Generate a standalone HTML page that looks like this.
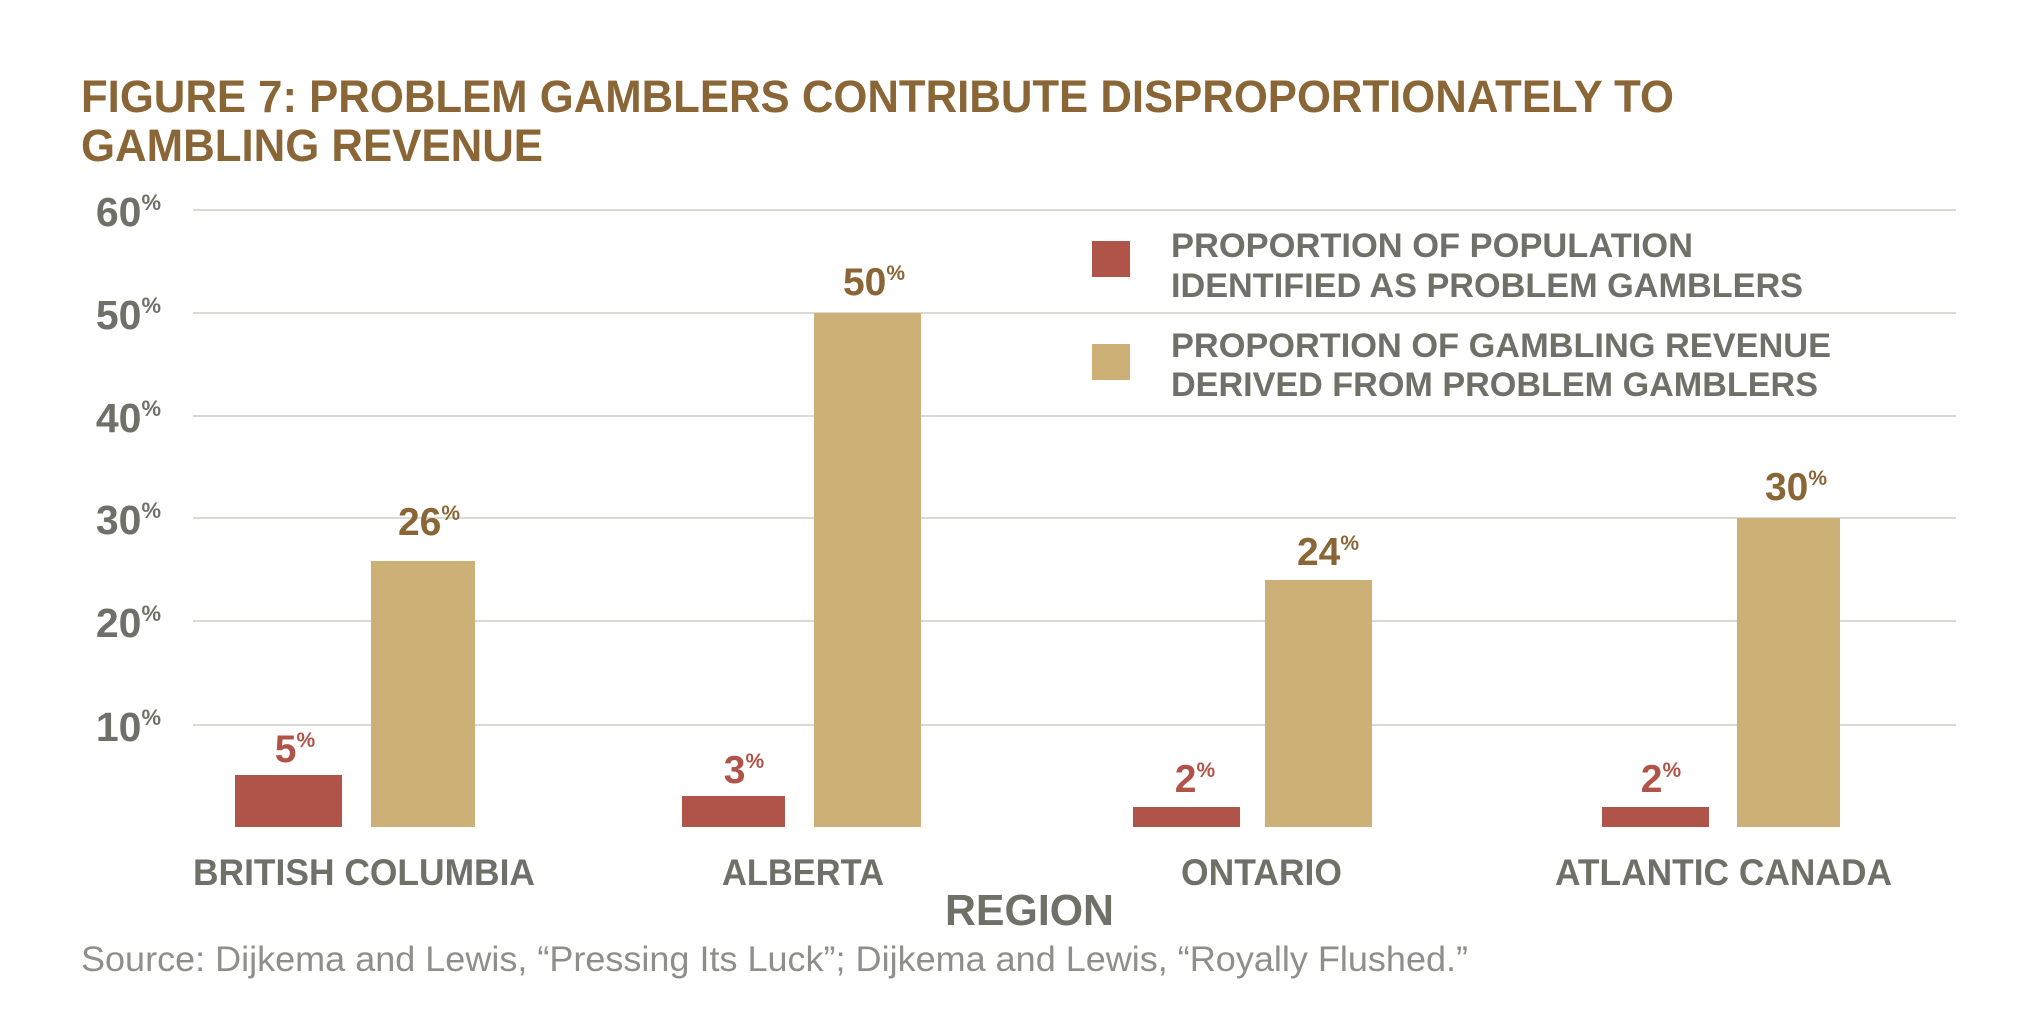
<!DOCTYPE html>
<html><head><meta charset="utf-8"><style>
html,body{margin:0;padding:0;background:#fff;width:2022px;height:1032px;overflow:hidden}
svg{display:block}
text{font-family:"Liberation Sans",sans-serif;font-weight:bold}
</style></head><body>
<svg width="2022" height="1032" viewBox="0 0 2022 1032">
<g fill="#8a6637" font-size="45">
<text x="81" y="112" textLength="1593" lengthAdjust="spacingAndGlyphs">FIGURE 7: PROBLEM GAMBLERS CONTRIBUTE DISPROPORTIONATELY TO</text>
<text x="81" y="161" textLength="462" lengthAdjust="spacingAndGlyphs">GAMBLING REVENUE</text>
</g>
<g stroke="#d9d9d6" stroke-width="2">
<line x1="193" x2="1956" y1="210" y2="210"/>
<line x1="193" x2="1956" y1="313" y2="313"/>
<line x1="193" x2="1956" y1="416" y2="416"/>
<line x1="193" x2="1956" y1="518" y2="518"/>
<line x1="193" x2="1956" y1="621" y2="621"/>
<line x1="193" x2="1956" y1="725" y2="725"/>
</g>
<g fill="#6f7169" font-size="41" text-anchor="end">
<text x="161" y="226">60<tspan font-size="22" dy="-16">%</tspan></text>
<text x="161" y="329">50<tspan font-size="22" dy="-16">%</tspan></text>
<text x="161" y="432">40<tspan font-size="22" dy="-16">%</tspan></text>
<text x="161" y="534">30<tspan font-size="22" dy="-16">%</tspan></text>
<text x="161" y="637">20<tspan font-size="22" dy="-16">%</tspan></text>
<text x="161" y="741">10<tspan font-size="22" dy="-16">%</tspan></text>
</g>
<g fill="#b0544a">
<rect x="235" y="775" width="107" height="52"/>
<rect x="682" y="796" width="103" height="31"/>
<rect x="1133" y="807" width="107" height="20"/>
<rect x="1602" y="807" width="107" height="20"/>
<rect x="1092" y="241" width="38" height="36"/>
</g>
<g fill="#cdb075">
<rect x="371" y="561" width="104" height="266"/>
<rect x="814" y="313" width="107" height="514"/>
<rect x="1265" y="580" width="107" height="247"/>
<rect x="1737" y="518" width="103" height="309"/>
<rect x="1092" y="344" width="38" height="36"/>
</g>
<g font-size="39" text-anchor="middle">
<text x="295" y="762" fill="#b0544a">5<tspan font-size="21" dy="-15">%</tspan></text>
<text x="744" y="783" fill="#b0544a">3<tspan font-size="21" dy="-15">%</tspan></text>
<text x="1195" y="792" fill="#b0544a">2<tspan font-size="21" dy="-15">%</tspan></text>
<text x="1661" y="792" fill="#b0544a">2<tspan font-size="21" dy="-15">%</tspan></text>
<text x="429" y="535" fill="#8a6637">26<tspan font-size="21" dy="-15">%</tspan></text>
<text x="874" y="295" fill="#8a6637">50<tspan font-size="21" dy="-15">%</tspan></text>
<text x="1328" y="565" fill="#8a6637">24<tspan font-size="21" dy="-15">%</tspan></text>
<text x="1796" y="500" fill="#8a6637">30<tspan font-size="21" dy="-15">%</tspan></text>
</g>
<g fill="#6f7169" font-size="34">
<text x="1171" y="257" textLength="522" lengthAdjust="spacingAndGlyphs">PROPORTION OF POPULATION</text>
<text x="1171" y="297" textLength="632" lengthAdjust="spacingAndGlyphs">IDENTIFIED AS PROBLEM GAMBLERS</text>
<text x="1171" y="357" textLength="660" lengthAdjust="spacingAndGlyphs">PROPORTION OF GAMBLING REVENUE</text>
<text x="1171" y="396" textLength="647" lengthAdjust="spacingAndGlyphs">DERIVED FROM PROBLEM GAMBLERS</text>
</g>
<g fill="#6f7169" font-size="37">
<text x="193" y="885" textLength="342" lengthAdjust="spacingAndGlyphs">BRITISH COLUMBIA</text>
<text x="722" y="885" textLength="162" lengthAdjust="spacingAndGlyphs">ALBERTA</text>
<text x="1181" y="885" textLength="161" lengthAdjust="spacingAndGlyphs">ONTARIO</text>
<text x="1555" y="885" textLength="337" lengthAdjust="spacingAndGlyphs">ATLANTIC CANADA</text>
<text x="945" y="925" font-size="44" textLength="169" lengthAdjust="spacingAndGlyphs">REGION</text>
</g>
<text x="81" y="971" fill="#8e8f8a" font-size="35" style="font-weight:normal" textLength="1387" lengthAdjust="spacingAndGlyphs">Source: Dijkema and Lewis, “Pressing Its Luck”; Dijkema and Lewis, “Royally Flushed.”</text>
</svg>
</body></html>
